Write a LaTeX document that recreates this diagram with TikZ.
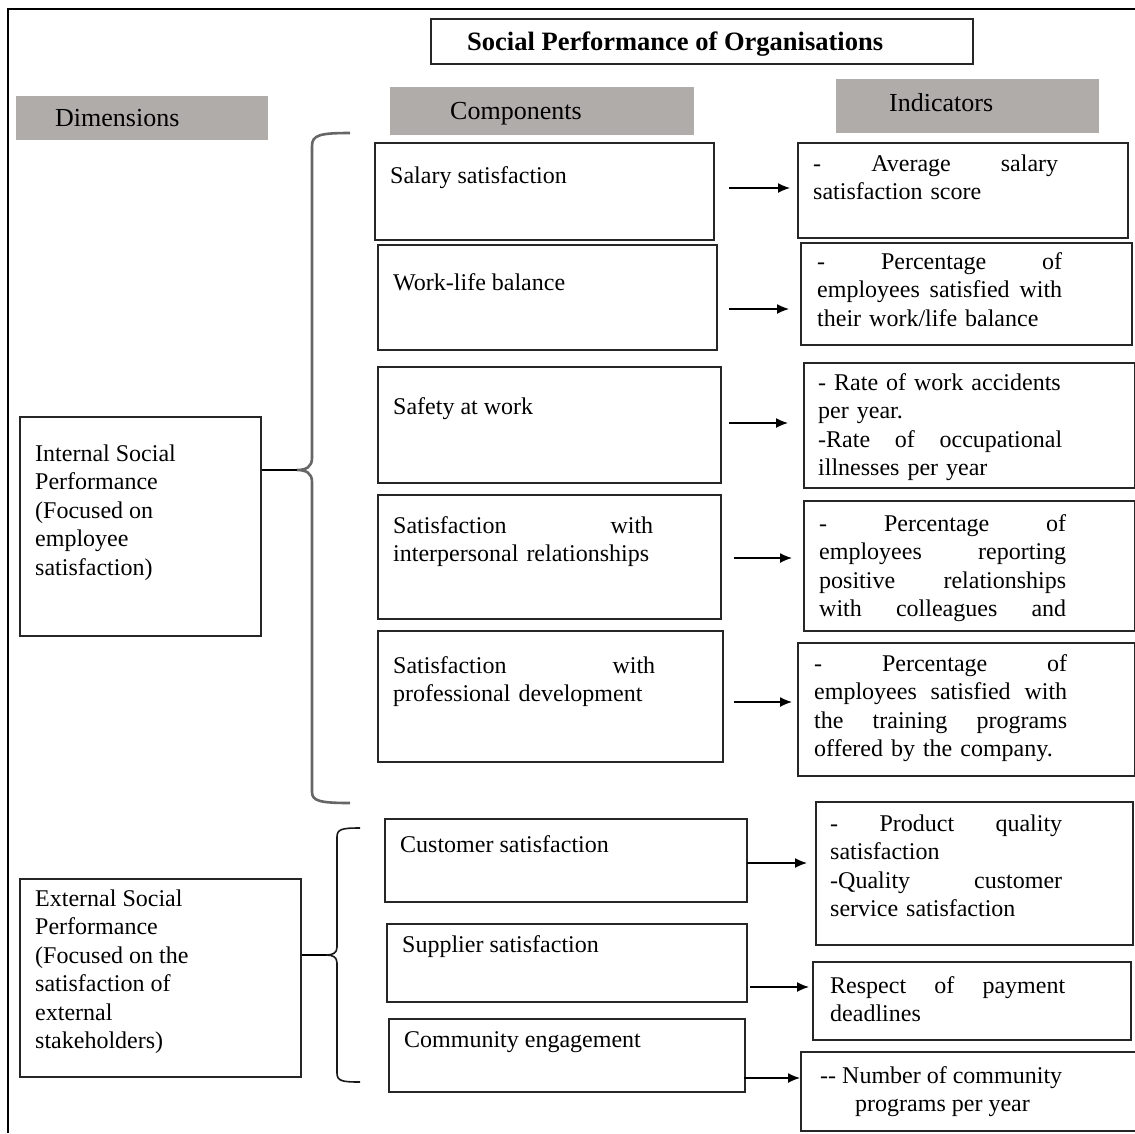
\documentclass[tikz,border=0pt]{standalone}
\usepackage{fontspec}
\setmainfont{Liberation Serif}
\usetikzlibrary{arrows.meta}
\definecolor{hdrgray}{HTML}{B0ACAA}
\begin{document}
\begin{tikzpicture}[x=1pt,y=-1pt,
  box/.style={draw=black!85, line width=1.5pt, anchor=north west, inner sep=0pt},
  hdr/.style={fill=hdrgray, anchor=north west, inner sep=0pt},
  hdrtxt/.style={anchor=base west, inner sep=0pt, font=\fontsize{26}{30}\selectfont},
  txt/.style={anchor=north west, inner sep=0pt, font=\fontsize{24}{28.5}\selectfont, align=left},
  arr/.style={line width=1.4pt, -{Latex[length=12pt,width=10pt]}},
  bracei/.style={draw=black!60, line width=2.6pt},
  bracee/.style={draw=black!90, line width=1.6pt},
  frame/.style={line width=1.2pt}
]
\useasboundingbox (0,0) rectangle (1135,1133);

% outer frame
\coordinate (f0) at (8,9);
\coordinate (f1) at (1135,9);
\coordinate (f2) at (8,1133);
\draw[frame] (f2) -- (f0) -- (f1);

% title
\node[box, minimum width=542pt, minimum height=45pt] (title) at (430,18) {};
\node[anchor=base west, inner sep=0pt, font=\fontsize{26.5}{30}\selectfont\bfseries] (titletxt) at (467,50) {Social Performance of Organisations};

% headers
\node[hdr, minimum width=252pt, minimum height=44pt] (hdim) at (16,96) {};
\node[hdrtxt] (hdimt) at (55,126) {Dimensions};
\node[hdr, minimum width=304pt, minimum height=48pt] (hcomp) at (390,87) {};
\node[hdrtxt] (hcompt) at (450,119) {Components};
\node[hdr, minimum width=263pt, minimum height=54pt] (hind) at (836,79) {};
\node[hdrtxt] (hindt) at (889,111) {Indicators};

% dimension boxes
\node[box, minimum width=241pt, minimum height=219pt] (d1) at (19,416) {};
\node[txt] (d1t) at (35,441) {\strut Internal Social\\Performance\\(Focused on\\employee\\satisfaction)};
\node[box, minimum width=281pt, minimum height=198pt] (d2) at (19,878) {};
\node[txt] (d2t) at (35,886) {\strut External Social\\Performance\\(Focused on the\\satisfaction of\\external\\stakeholders)};

% component boxes
\node[box, minimum width=339pt, minimum height=97pt] (c1) at (374,142) {};
\node[txt] (c1t) at (390,163) {\strut Salary satisfaction};
\node[box, minimum width=339pt, minimum height=105pt] (c2) at (377,244) {};
\node[txt] (c2t) at (393,270) {\strut Work-life balance};
\node[box, minimum width=343pt, minimum height=116pt] (c3) at (377,366) {};
\node[txt] (c3t) at (393,394) {\strut Safety at work};
\node[box, minimum width=343pt, minimum height=124pt] (c4) at (377,494) {};
\node[txt, text width=260pt] (c4t) at (393,513) {\strut Satisfaction\hfill with\\interpersonal relationships};
\node[box, minimum width=345pt, minimum height=131pt] (c5) at (377,630) {};
\node[txt, text width=262pt] (c5t) at (393,653) {\strut Satisfaction\hfill with\\professional development};
\node[box, minimum width=362pt, minimum height=83pt] (c6) at (384,818) {};
\node[txt] (c6t) at (400,832) {\strut Customer satisfaction};
\node[box, minimum width=360pt, minimum height=78pt] (c7) at (386,923) {};
\node[txt] (c7t) at (402,932) {\strut Supplier satisfaction};
\node[box, minimum width=356pt, minimum height=73pt] (c8) at (388,1018) {};
\node[txt] (c8t) at (404,1027) {\strut Community engagement};

% indicator boxes
\node[box, minimum width=330pt, minimum height=95pt] (i1) at (797,142) {};
\node[txt, text width=245pt] (i1t) at (813,151) {\strut -\hfill Average\hfill salary\\satisfaction score};
\node[box, minimum width=331pt, minimum height=102pt] (i2) at (800,242) {};
\node[txt, text width=245pt] (i2t) at (817,249) {\strut -\hfill Percentage\hfill of\\employees\hfill satisfied\hfill with\\their work/life balance};
\node[box, minimum width=331pt, minimum height=125pt] (i3) at (803,362) {};
\node[txt, text width=244pt] (i3t) at (818,370) {\strut - Rate of work accidents\\per year.\\-Rate\hfill of\hfill occupational\\illnesses per year};
\node[box, minimum width=331pt, minimum height=130pt] (i4) at (803,500) {};
\node[txt, text width=247pt] (i4t) at (819,511) {\strut -\hfill Percentage\hfill of\\employees\hfill reporting\\positive\hfill relationships\\with\hfill colleagues\hfill and};
\node[box, minimum width=337pt, minimum height=133pt] (i5) at (797,642) {};
\node[txt, text width=253pt] (i5t) at (814,651) {\strut -\hfill Percentage\hfill of\\employees\hfill satisfied\hfill with\\the\hfill training\hfill programs\\offered by the company.};
\node[box, minimum width=317pt, minimum height=143pt] (i6) at (815,801) {};
\node[txt, text width=232pt] (i6t) at (830,811) {\strut -\hfill Product\hfill quality\\satisfaction\\-Quality\hfill customer\\service satisfaction};
\node[box, minimum width=318pt, minimum height=78pt] (i7) at (812,961) {};
\node[txt, text width=235pt] (i7t) at (830,973) {\strut Respect\hfill of\hfill payment\\deadlines};
\node[box, minimum width=345pt, minimum height=79pt] (i8) at (800,1051) {};
\node[txt] (i8t) at (820,1063) {\strut -{}- Number of community\\\hspace*{35pt}programs per year};

% arrows
\coordinate (a1) at (729,188);
\coordinate (a2) at (729,309);
\coordinate (a3) at (729,423);
\coordinate (a4) at (734,558);
\coordinate (a5) at (734,702);
\coordinate (a6) at (747,863);
\coordinate (a7) at (750,987);
\coordinate (a8) at (744,1078);
\draw[arr, shorten >=7pt] (a1) -- (a1 -| i1.west);
\draw[arr, shorten >=11pt] (a2) -- (a2 -| i2.west);
\draw[arr, shorten >=15pt] (a3) -- (a3 -| i3.west);
\draw[arr, shorten >=11pt] (a4) -- (a4 -| i4.west);
\draw[arr, shorten >=5pt] (a5) -- (a5 -| i5.west);
\draw[arr, shorten >=8pt] (a6) -- (a6 -| i6.west);
\draw[arr, shorten >=3pt] (a7) -- (a7 -| i7.west);
\draw[arr, shorten >=0pt] (a8) -- (a8 -| i8.west);

% internal brace
\coordinate (ti) at (297,470);
\draw[bracei] (350,133) .. controls (320,133) and (312,135) .. (312,146) -- (312,458)
  .. controls (312,467) and (306,470) .. (ti)
  .. controls (306,470) and (312,473) .. (312,482) -- (312,792)
  .. controls (312,801) and (320,803) .. (350,803);
\draw[line width=1.5pt] (ti) -- (ti -| d1.east);

% external brace
\coordinate (te) at (326,955);
\draw[bracee] (360,828) .. controls (342,828) and (337,829) .. (337,837) -- (337,947)
  .. controls (337,953) and (333,955) .. (te)
  .. controls (333,955) and (337,957) .. (337,963) -- (337,1073)
  .. controls (337,1081) and (342,1082) .. (360,1082);
\draw[line width=1.5pt] (te) -- (te -| d2.east);
\end{tikzpicture}
\end{document}
